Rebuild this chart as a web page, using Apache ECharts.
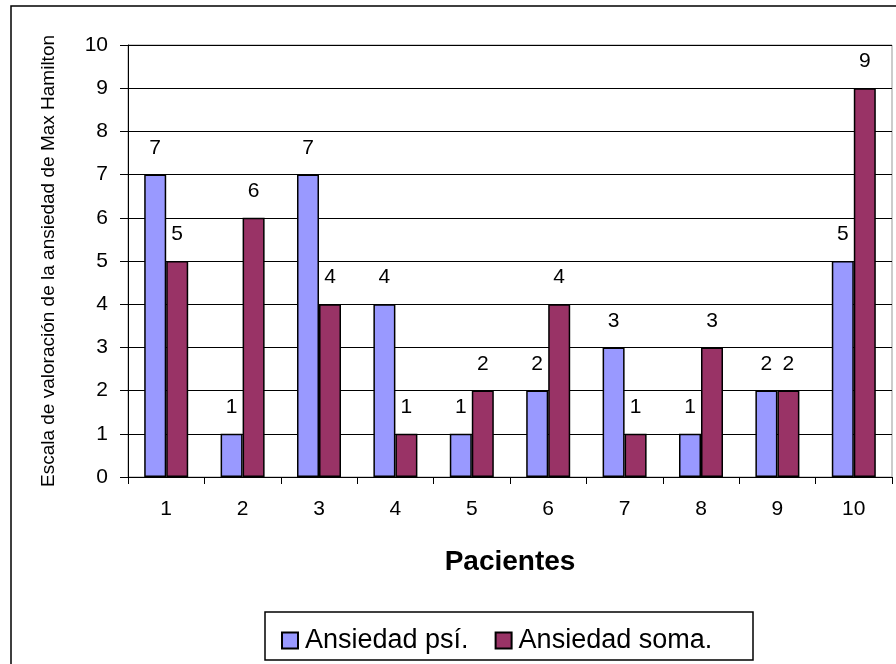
<!DOCTYPE html>
<html>
<head>
<meta charset="utf-8">
<script src="https://cdn.jsdelivr.net/npm/echarts@6/dist/echarts.min.js"></script>
<style>
  html, body { margin: 0; padding: 0; background: #fff; }
  #chart { width: 896px; height: 664px; }
</style>
</head>
<body>
<div id="chart"></div>
<script>
const pacientes = ['1', '2', '3', '4', '5', '6', '7', '8', '9', '10']
const ansiedadPsi = [7, 1, 7, 4, 1, 2, 3, 1, 2, 5]
const ansiedadSoma = [5, 6, 4, 1, 2, 4, 1, 3, 2, 9]
const yTicks = [0, 1, 2, 3, 4, 5, 6, 7, 8, 9, 10]

const font = 'Arial, "Liberation Sans", sans-serif'

let myChart = echarts.init(document.getElementById('chart'))

function barSeries (name, data, color) {
    return {
        name: name,
        type: 'bar',
        data: data,
        barWidth: 22,
        barGap: '0%',
        itemStyle: { color: color, borderColor: '#000', borderWidth: 1.5 },
        label: {
            show: true,
            position: 'top',
            distance: 16,
            color: '#000',
            fontFamily: font,
            fontSize: 21
        }
    }
}

myChart.setOption({
    animation: false,
    backgroundColor: '#fff',
    grid: { left: 128, top: 45, right: 4, bottom: 187, show: true, borderColor: '#999', borderWidth: 1 },
    graphic: [
        {
            type: 'rect',
            shape: { x: 11, y: 6, width: 900, height: 700 },
            style: { fill: 'none', stroke: '#000', lineWidth: 1.5 },
            z: -1
        },
        {
            type: 'rect',
            shape: { x: 265, y: 612, width: 488, height: 48 },
            style: { fill: 'none', stroke: '#000', lineWidth: 1.5 },
            z: -1
        }
    ],
    legend: {
        left: 276,
        top: 622,
        itemWidth: 16,
        itemHeight: 16,
        itemGap: 26,
        icon: 'rect',
        textStyle: { fontFamily: font, fontSize: 27, color: '#000', padding: [0, 0, 0, 2] },
        data: ['Ansiedad psí.', 'Ansiedad soma.']
    },
    xAxis: {
        type: 'category',
        data: pacientes,
        name: 'Pacientes',
        nameLocation: 'middle',
        nameGap: 71,
        nameTextStyle: { fontFamily: font, fontSize: 28, fontWeight: 'bold', color: '#000' },
        axisLine: { lineStyle: { color: '#000', width: 1 } },
        axisTick: { show: true, length: 7, lineStyle: { color: '#000' } },
        axisLabel: { fontFamily: font, fontSize: 21, color: '#000', margin: 22 }
    },
    yAxis: {
        type: 'value',
        min: yTicks[0],
        max: yTicks[yTicks.length - 1],
        interval: 1,
        name: 'Escala de valoración de la ansiedad de Max Hamilton',
        nameLocation: 'middle',
        nameGap: 70,
        nameTextStyle: { fontFamily: font, fontSize: 19, color: '#000' },
        axisLine: { show: true, lineStyle: { color: '#000', width: 1 } },
        axisTick: { show: true, length: 8, lineStyle: { color: '#000' } },
        axisLabel: { fontFamily: font, fontSize: 21, color: '#000', margin: 20 },
        splitLine: { lineStyle: { color: '#000', width: 1 } }
    },
    series: [
        barSeries('Ansiedad psí.', ansiedadPsi, '#9999FF'),
        barSeries('Ansiedad soma.', ansiedadSoma, '#993366')
    ]
})
</script>
</body>
</html>
